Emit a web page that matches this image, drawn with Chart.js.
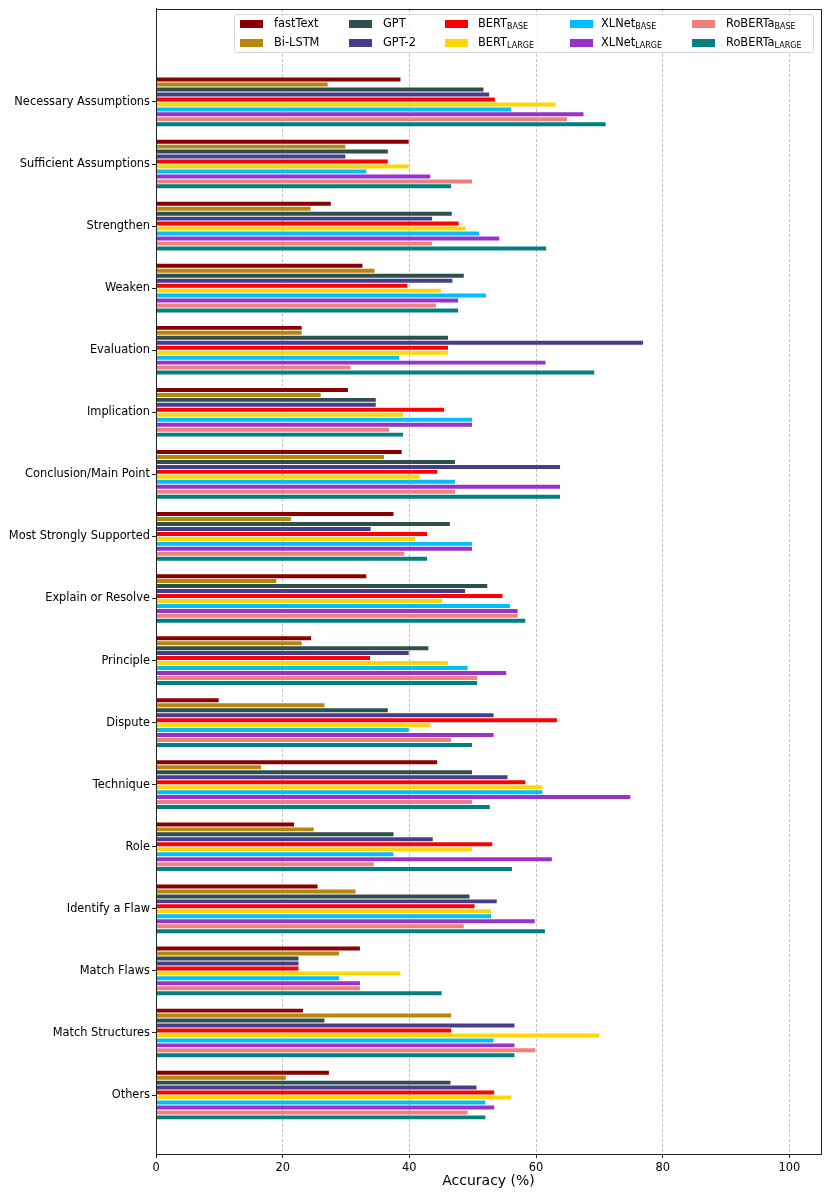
<!DOCTYPE html>
<html>
<head>
<meta charset="utf-8">
<script src="https://cdn.jsdelivr.net/npm/chart.js@4.4.1/dist/chart.umd.min.js"></script>
<style>
  body { margin: 0; background: #fff; font-family: "DejaVu Sans", sans-serif; }
  #wrap { position: relative; width: 830px; height: 1196px; }
  #legend {
    position: absolute; left: 234px; top: 14px; width: 580px; height: 39px;
    border: 1px solid #d6d6d6; border-radius: 3px; background: rgba(255,255,255,0.8);
    box-sizing: border-box;
  }
  .item { position: absolute; font-size: 11.4px; color: #000; line-height: 1; white-space: nowrap; }
  .box { position: absolute; width: 23px; height: 8px; }
  .item sub { font-size: 8px; vertical-align: -2px; }
</style>
</head>
<body>
<div id="wrap">
  <canvas id="acc" width="830" height="1196"></canvas>
  <div id="legend"></div>
</div>
<script>
const categories = ['Necessary Assumptions', 'Sufficient Assumptions', 'Strengthen', 'Weaken', 'Evaluation',
    'Implication', 'Conclusion/Main Point', 'Most Strongly Supported', 'Explain or Resolve', 'Principle',
    'Dispute', 'Technique', 'Role', 'Identify a Flaw', 'Match Flaws', 'Match Structures', 'Others'];

const fastText     = [38.6, 39.9, 27.6, 32.6, 23.0, 30.3, 38.8, 37.5, 33.2, 24.5, 9.9, 44.4, 21.8, 25.5, 32.2, 23.2, 27.3];
const biLSTM       = [27.1, 29.9, 24.4, 34.5, 23.0, 26.0, 36.0, 21.3, 19.0, 23.0, 26.6, 16.6, 24.9, 31.5, 28.9, 46.6, 20.5];
const gpt          = [51.7, 36.6, 46.7, 48.6, 46.1, 34.7, 47.2, 46.4, 52.3, 43.0, 36.6, 49.9, 37.5, 49.5, 22.5, 26.6, 46.5];
const gpt2         = [52.6, 29.9, 43.6, 46.8, 76.9, 34.7, 63.8, 33.9, 48.8, 39.9, 53.3, 55.5, 43.7, 53.8, 22.5, 56.6, 50.6];
const bertBase     = [53.5, 36.6, 47.8, 39.7, 46.1, 45.5, 44.4, 42.8, 54.7, 33.8, 63.3, 58.3, 53.1, 50.3, 22.5, 46.6, 53.4];
const bertLarge    = [63.1, 39.9, 48.9, 45.0, 46.1, 39.0, 41.6, 40.9, 45.2, 46.1, 43.3, 61.0, 49.9, 52.9, 38.6, 70.0, 56.1];
const xlnetBase    = [56.1, 33.2, 51.0, 52.1, 38.4, 49.9, 47.2, 49.9, 55.9, 49.2, 39.9, 61.0, 37.5, 52.9, 28.9, 53.3, 52.0];
const xlnetLarge   = [67.5, 43.3, 54.2, 47.7, 61.5, 49.9, 63.8, 49.9, 57.1, 55.3, 53.3, 74.9, 62.5, 59.8, 32.2, 56.6, 53.4];
const robertaBase  = [64.9, 49.9, 43.6, 44.2, 30.7, 36.8, 47.2, 39.2, 57.1, 50.7, 46.6, 49.9, 34.4, 48.6, 32.2, 59.9, 49.2];
const robertaLarge = [71.0, 46.6, 61.6, 47.7, 69.2, 39.0, 63.8, 42.8, 58.3, 50.7, 49.9, 52.7, 56.2, 61.4, 45.1, 56.6, 52.0];

const xTicks = [0, 20, 40, 60, 80, 100];

// name, subscript, colour, values
const series = [
    ['fastText', '', '#8b0000', fastText],
    ['Bi-LSTM', '', '#b8860b', biLSTM],
    ['GPT', '', '#2f4f4f', gpt],
    ['GPT-2', '', '#483d8b', gpt2],
    ['BERT', 'BASE', '#ff0000', bertBase],
    ['BERT', 'LARGE', '#ffd700', bertLarge],
    ['XLNet', 'BASE', '#00bfff', xlnetBase],
    ['XLNet', 'LARGE', '#9932cc', xlnetLarge],
    ['RoBERTa', 'BASE', '#f08080', robertaBase],
    ['RoBERTa', 'LARGE', '#008080', robertaLarge]
];

const datasets = series.map(function (s) {
    return {
        label: s[0] + (s[1] ? ' ' + s[1] : ''),
        data: s[3].map(function (v, i) { return { x: v, y: i }; }),
        backgroundColor: s[2],
        borderWidth: 0
    };
});

// legend, matplotlib style: 2 rows, filled column by column
const colBox = [240, 349, 445, 570, 692];
const colText = [274, 383, 478, 601, 726];
const rowY = [24, 43];
const legend = document.getElementById('legend');
series.forEach(function (s, i) {
    const col = Math.floor(i / 2), row = i % 2;
    const b = document.createElement('div');
    b.className = 'box';
    b.style.background = s[2];
    b.style.left = (colBox[col] - 235) + 'px';
    b.style.top = (rowY[row] - 4 - 15) + 'px';
    legend.appendChild(b);
    const t = document.createElement('div');
    t.className = 'item';
    t.innerHTML = s[0] + (s[1] ? '<sub>' + s[1] + '</sub>' : '');
    t.style.left = (colText[col] - 235) + 'px';
    t.style.top = (rowY[row] - 6 - 15) + 'px';
    legend.appendChild(t);
});

const spines = {
    id: 'spines',
    afterDraw: function (chart) {
        const a = chart.chartArea, ctx = chart.ctx;
        ctx.save();
        ctx.strokeStyle = '#222';
        ctx.lineWidth = 1;
        ctx.strokeRect(Math.round(a.left) + 0.5, Math.round(a.top) + 0.5,
            Math.round(a.right - a.left), Math.round(a.bottom - a.top));
        ctx.restore();
    }
};

new Chart(document.getElementById('acc'), {
    type: 'bar',
    data: { datasets: datasets },
    plugins: [spines],
    options: {
        indexAxis: 'y',
        responsive: false,
        animation: false,
        categoryPercentage: 0.8,
        barPercentage: 0.8,
        layout: { padding: { top: 8, right: 9, left: 0, bottom: 0 } },
        plugins: {
            legend: { display: false },
            tooltip: { enabled: false }
        },
        scales: {
            y: {
                type: 'linear',
                reverse: true,
                offset: false,
                min: -1.5,
                max: 16.95,
                afterBuildTicks: function (scale) {
                    scale.ticks = categories.map(function (c, i) { return { value: i }; });
                },
                afterFit: function (scale) { scale.width = 156; },
                ticks: {
                    autoSkip: false,
                    padding: 2,
                    color: '#000',
                    font: { family: 'DejaVu Sans', size: 11.4 },
                    callback: function (v) { return categories[v]; }
                },
                grid: { offset: false, drawOnChartArea: false, tickLength: 4, color: '#222' },
                border: { display: true, color: '#222' }
            },
            x: {
                type: 'linear',
                min: 0,
                max: 105,
                afterBuildTicks: function (scale) {
                    scale.ticks = xTicks.map(function (v) { return { value: v }; });
                },
                afterFit: function (scale) { scale.height = 42; },
                ticks: {
                    padding: 3,
                    color: '#000',
                    font: { family: 'DejaVu Sans', size: 11.4 }
                },
                grid: {
                    color: '#b0b0b0',
                    lineWidth: 0.8,
                    tickLength: 4,
                    tickColor: '#222',
                    tickWidth: 1
                },
                border: { display: true, color: '#222', dash: [3, 2] },
                title: {
                    display: true,
                    text: 'Accuracy (%)',
                    color: '#000',
                    font: { family: 'DejaVu Sans', size: 14 },
                    padding: { top: 0, bottom: 6 }
                }
            }
        }
    }
});
</script>
</body>
</html>
